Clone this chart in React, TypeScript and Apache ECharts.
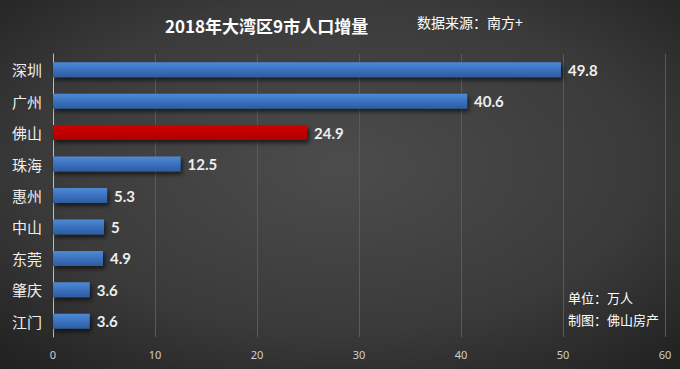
import React, { useEffect, useRef } from "react";
import * as echarts from "echarts";

const categories = ["深圳", "广州", "佛山", "珠海", "惠州", "中山", "东莞", "肇庆", "江门"];
const values = [49.8, 40.6, 24.9, 12.5, 5.3, 5, 4.9, 3.6, 3.6];
const highlight = "佛山";
const xTicks = [0, 10, 20, 30, 40, 50, 60];

export default function App() {
  const ref = useRef<HTMLDivElement>(null);
  useEffect(() => {
    const chart = echarts.init(ref.current!, null, { renderer: "svg" });
    const blue = new echarts.graphic.LinearGradient(0, 0, 0, 1, [
      { offset: 0, color: "#4f8ad6" },
      { offset: 0.5, color: "#3a72bf" },
      { offset: 1, color: "#2d5c9e" },
    ]);
    const red = new echarts.graphic.LinearGradient(0, 0, 0, 1, [
      { offset: 0, color: "#d00000" },
      { offset: 1, color: "#b00000" },
    ]);
    chart.setOption({
      animation: false,
      backgroundColor: new echarts.graphic.RadialGradient(0.5, 0.45, 0.75, [
        { offset: 0, color: "#4c4c4c" },
        { offset: 0.6, color: "#3a3a3a" },
        { offset: 1, color: "#1f1f1f" },
      ]),
      title: {
        text: "2018年大湾区9市人口增量",
        left: 160,
        top: 12,
        textStyle: { color: "#ffffff", fontSize: 17, fontWeight: "bold", fontFamily: "Noto Sans CJK SC" },
      },
      graphic: [
        {
          type: "text",
          left: 417,
          top: 15,
          style: { text: "数据来源：南方+", fill: "#ffffff", fontSize: 14, fontFamily: "Noto Sans CJK SC" },
        },
        {
          type: "text",
          left: 568,
          top: 291,
          style: { text: "单位：万人", fill: "#ffffff", fontSize: 13, fontFamily: "Noto Sans CJK SC" },
        },
        {
          type: "text",
          left: 568,
          top: 313,
          style: { text: "制图：佛山房产", fill: "#ffffff", fontSize: 13, fontFamily: "Noto Sans CJK SC" },
        },
      ],
      grid: { left: 53, right: 15, top: 54, bottom: 32, containLabel: false },
      xAxis: {
        type: "value",
        min: xTicks[0],
        max: xTicks[xTicks.length - 1],
        interval: 10,
        axisLine: { show: false },
        axisTick: { show: false },
        splitLine: { show: true, lineStyle: { color: "#5a5a5a", width: 1 } },
        axisLabel: { color: "#cfcfcf", fontSize: 11, margin: 12, fontFamily: "Noto Sans" },
      },
      yAxis: {
        type: "category",
        data: categories,
        inverse: true,
        axisLine: { show: true, lineStyle: { color: "#bdbdbd", width: 1 } },
        axisTick: { show: false },
        axisLabel: { color: "#eeeeee", fontSize: 15, margin: 11, fontFamily: "Noto Sans CJK SC" },
      },
      series: [
        {
          type: "bar",
          barWidth: 15,
          data: values.map((v, i) => ({
            value: v,
            itemStyle: { color: categories[i] === highlight ? red : blue },
          })),
          itemStyle: {
            shadowColor: "rgba(0,0,0,0.6)",
            shadowBlur: 4,
            shadowOffsetX: 2,
            shadowOffsetY: 3,
          },
          label: {
            show: true,
            position: "right",
            distance: 7,
            color: "#eeeeee",
            fontSize: 15,
            fontWeight: "bold",
            fontFamily: "Lato",
          },
        },
      ],
    });
    return () => chart.dispose();
  }, []);
  return <div ref={ref} style={{ width: 680, height: 369, position: "absolute", left: 0, top: 0 }} />;
}
